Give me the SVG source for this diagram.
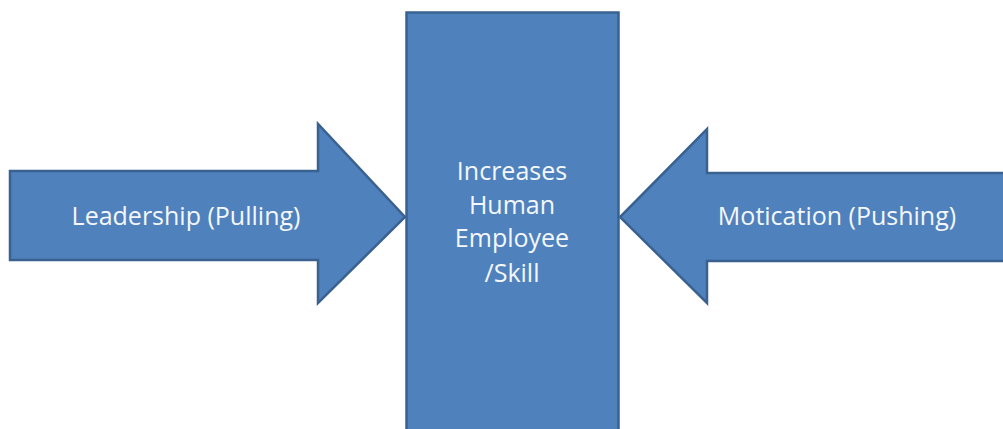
<svg xmlns="http://www.w3.org/2000/svg" width="1003" height="429" viewBox="0 0 1003 429">
<style>
.shape{fill:#4F81BD;stroke:#3A6291;stroke-width:2.5;stroke-linejoin:miter}
.lbl{fill:#F4F7FB;font-family:"Open Sans","Noto Sans",sans-serif;font-size:25px;text-anchor:middle}
</style>
<rect width="1003" height="429" fill="#FFFFFF"/>
<g id="connectors"></g>
<g id="center">
<rect class="shape" x="406.5" y="12.5" width="212" height="418"/>
<text class="lbl" x="512" y="180">Increases</text>
<text class="lbl" x="512" y="214">Human</text>
<text class="lbl" x="512" y="247">Employee</text>
<text class="lbl" x="512" y="282">/Skill</text>
</g>
<g id="leadership">
<polygon class="shape" points="10,171 318,171 318,124 405,217 318,303 318,260 10,260"/>
<text class="lbl" x="186" y="225">Leadership (Pulling)</text>
</g>
<g id="motivation">
<polygon class="shape" points="1010,173 707,173 707,129 620,217 707,303 707,261 1010,261"/>
<text class="lbl" x="837" y="225">Motication (Pushing)</text>
</g>
</svg>
